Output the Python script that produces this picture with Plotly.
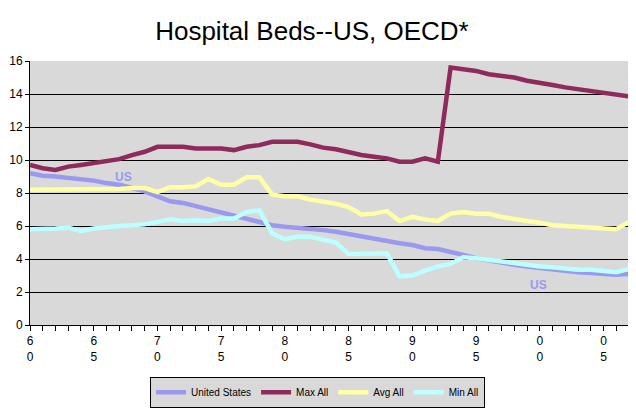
import plotly.graph_objects as go

years = list(range(1960, 2008))

united_states = [9.2, 9.05, 9.0, 8.93, 8.85, 8.75, 8.6, 8.5, 8.3, 8.1,
                 7.8, 7.5, 7.4, 7.2, 7.05, 6.8, 6.65, 6.45, 6.25, 6.05,
                 5.95, 5.9, 5.85, 5.75, 5.65, 5.5, 5.35, 5.2, 5.1, 4.95,
                 4.85, 4.65, 4.6, 4.45, 4.25, 4.05, 3.9, 3.75, 3.65, 3.55,
                 3.45, 3.35, 3.25, 3.2, 3.15, 3.1, 3.05, 3.1]

max_all = [9.7, 9.5, 9.4, 9.6, 9.7, 9.8, 9.9, 10.05, 10.3, 10.5,
           10.8, 10.8, 10.8, 10.7, 10.7, 10.7, 10.6, 10.8, 10.9, 11.1,
           11.1, 11.1, 10.95, 10.75, 10.65, 10.45, 10.3, 10.2, 10.1, 9.9,
           9.9, 10.1, 9.9, 15.6, 15.5, 15.4, 15.2, 15.1, 15.0, 14.8,
           14.7, 14.55, 14.4, 14.3, 14.2, 14.1, 14.0, 13.85]

avg_all = [8.2, 8.2, 8.2, 8.25, 8.2, 8.2, 8.25, 8.25, 8.3, 8.3,
           8.05, 8.35, 8.35, 8.4, 8.85, 8.5, 8.5, 8.95, 8.95, 7.9,
           7.8, 7.8, 7.6, 7.5, 7.35, 7.15, 6.7, 6.75, 6.9, 6.3,
           6.55, 6.4, 6.3, 6.75, 6.85, 6.75, 6.75, 6.55, 6.4, 6.3,
           6.2, 6.05, 6.0, 5.95, 5.9, 5.85, 5.8, 6.25]

min_all = [5.8, 5.8, 5.85, 5.9, 5.7, 5.85, 5.95, 6.0, 6.05, 6.1,
           6.25, 6.4, 6.3, 6.35, 6.3, 6.45, 6.45, 6.85, 6.95, 5.55,
           5.2, 5.35, 5.35, 5.2, 5.0, 4.3, 4.3, 4.3, 4.35, 2.95,
           3.0, 3.3, 3.55, 3.7, 4.1, 4.05, 3.95, 3.8, 3.7, 3.6,
           3.55, 3.5, 3.4, 3.35, 3.35, 3.25, 3.2, 3.4]

tick_years = list(range(1960, 2010, 5))
tick_labels = [f"{str(y)[2]}<br>{str(y)[3]}" for y in tick_years]

series = [
    ("United States", united_states, "#9999f0"),
    ("Max All", max_all, "#8e2a5c"),
    ("Avg All", avg_all, "#ffffa6"),
    ("Min All", min_all, "#bcffff"),
]

fig = go.Figure()
for name, vals, col in series:
    fig.add_trace(go.Scatter(x=years, y=vals, mode="lines", name=name,
                             line=dict(color=col, width=4.5)))

# "US" labels next to the United States line
fig.add_annotation(x=1967.3, y=9.0, text="<b>US</b>", showarrow=False,
                   font=dict(color="#9999f0", size=12))
fig.add_annotation(x=1999.9, y=2.45, text="<b>US</b>", showarrow=False,
                   font=dict(color="#9999f0", size=12))

# page body adds ~8px margin, so the figure is a bit smaller than the window
fig.update_layout(
    width=628, height=412,
    margin=dict(l=22, r=7, t=53, b=95, autoexpand=False),
    paper_bgcolor="white",
    plot_bgcolor="#d9d9d9",
    font=dict(family="Arial, Liberation Sans, sans-serif", color="black", size=12),
    title=dict(text="Hospital Beds--US, OECD*", x=0.484, xanchor="center",
               y=0.945, yanchor="middle", font=dict(size=26)),
    showlegend=True,
    legend=dict(orientation="h", x=0.48, xanchor="center", y=-0.196, yanchor="top",
                bgcolor="#d9d9d9", bordercolor="black", borderwidth=1,
                font=dict(size=10), itemwidth=30, tracegroupgap=0),
)

fig.update_xaxes(range=[1960, 2007], tickvals=tick_years, ticktext=tick_labels,
                 showgrid=False, zeroline=False, showline=True, linecolor="black",
                 linewidth=1, ticks="outside", ticklen=5, tickcolor="black",
                 minor=dict(dtick=1, tick0=1960, ticks="outside", ticklen=5,
                            tickcolor="black", showgrid=False),
                 tickfont=dict(size=12), automargin=False)
fig.update_yaxes(range=[0, 16], dtick=2, showgrid=True, gridcolor="black",
                 gridwidth=1, zeroline=False, showline=True, linecolor="black",
                 linewidth=1, ticks="outside", ticklen=4, tickcolor="black",
                 tickfont=dict(size=12), automargin=False)

fig.write_html("out.html")
